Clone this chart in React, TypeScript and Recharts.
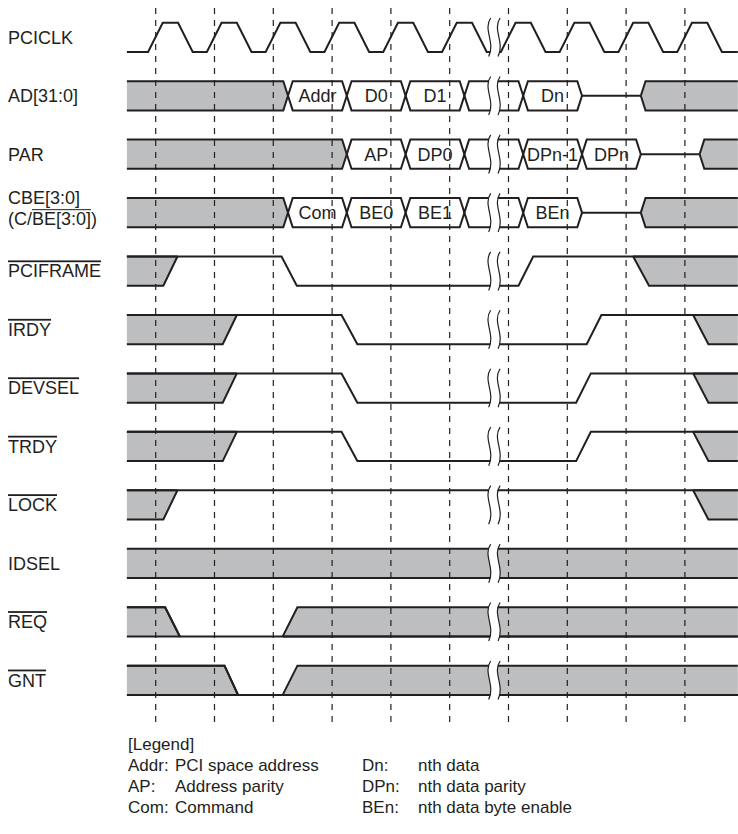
import React from 'react'
import { ComposedChart, Line, Area, Scatter, XAxis, YAxis, ReferenceLine, ReferenceArea } from 'recharts'

// time axis: one unit = one PCICLK period, 0 = first dashed line
const T0 = -0.49
const T1 = 9.9

const signals = ['PCICLK', 'AD[31:0]', 'PAR', 'CBE[3:0]', 'PCIFRAME', 'IRDY', 'DEVSEL', 'TRDY', 'LOCK', 'IDSEL', 'REQ', 'GNT']
const overlined = ['PCIFRAME', 'IRDY', 'DEVSEL', 'TRDY', 'LOCK', 'REQ', 'GNT']

const clockEdges = [0, 1, 2, 3, 4, 5, 6, 7, 8, 9]
const breakSpan = [5.68, 5.84]

// bus signals: data change points, labels and high-Z window
const adEdges = [2.25, 3.25, 4.25, 5.25, 6.25, 7.25]
const adLabels = ['Addr', 'D0', 'D1', '', 'Dn']
const adFloat = [7.25, 8.25]
const parEdges = [3.25, 4.25, 5.25, 6.25, 7.25, 8.25]
const parLabels = ['AP', 'DP0', '', 'DPn-1', 'DPn']
const parFloat = [8.25, 9.25]
const cbeEdges = [2.25, 3.25, 4.25, 5.25, 6.25, 7.25]
const cbeLabels = ['Com', 'BE0', 'BE1', '', 'BEn']
const cbeFloat = [7.25, 8.25]

// control signals: [t, level] (1 = high, 0 = low)
const frameLine = [[T0, 1], [2.14, 1], [2.4, 0], [6.17, 0], [6.42, 1], [T1, 1]]
const frameGray = [[[T0, 0, 1], [0.13, 0, 1], [0.37, 1, 1]], [[8.12, 1, 1], [8.39, 0, 1], [T1, 0, 1]]]
const irdyLine = [[T0, 1], [3.16, 1], [3.43, 0], [7.33, 0], [7.58, 1], [T1, 1]]
const irdyGray = [[[T0, 0, 1], [1.14, 0, 1], [1.38, 1, 1]], [[9.14, 1, 1], [9.4, 0, 1], [T1, 0, 1]]]
const devselLine = [[T0, 1], [3.16, 1], [3.43, 0], [7.15, 0], [7.4, 1], [T1, 1]]
const devselGray = [[[T0, 0, 1], [1.14, 0, 1], [1.38, 1, 1]], [[9.14, 1, 1], [9.4, 0, 1], [T1, 0, 1]]]
const trdyLine = [[T0, 1], [3.16, 1], [3.43, 0], [7.15, 0], [7.4, 1], [T1, 1]]
const trdyGray = [[[T0, 0, 1], [1.14, 0, 1], [1.38, 1, 1]], [[9.14, 1, 1], [9.4, 0, 1], [T1, 0, 1]]]
const lockLine = [[T0, 1], [T1, 1]]
const lockGray = [[[T0, 0, 1], [0.13, 0, 1], [0.37, 1, 1]], [[9.14, 1, 1], [9.4, 0, 1], [T1, 0, 1]]]
const idselGray = [[[T0, 0, 1], [T1, 0, 1]]]
const reqLine = [[T0, 1], [0.16, 1], [0.41, 0], [T1, 0]]
const reqGray = [[[T0, 0, 1], [0.16, 0, 1], [0.41, 0, 0]], [[2.16, 0, 0], [2.41, 0, 1], [T1, 0, 1]]]
const gntLine = [[T0, 1], [1.17, 1], [1.4, 0], [T1, 0]]
const gntGray = [[[T0, 0, 1], [1.17, 0, 1], [1.4, 0, 0]], [[2.16, 0, 0], [2.41, 0, 1], [T1, 0, 1]]]

const legendKeys = ['Addr:', 'AP:', 'Com:']
const legendDescs = ['PCI space address', 'Address parity', 'Command']
const legendKeys2 = ['Dn:', 'DPn:', 'BEn:']
const legendDescs2 = ['nth data', 'nth data parity', 'nth data byte enable']

const INK = '#231f20'
const GRAY = '#bcbec0'
const FONT = '"Liberation Sans", Arial, Helvetica, sans-serif'
const H = 0.08 // half width of a bus crossing

const lvl = (row: number, level: number) => row + (1 - level) * 0.5
const mid = (row: number) => row + 0.25

const toLine = (row: number, pts: number[][]) => pts.map(([t, l]) => ({ t, v: lvl(row, l) }))
const toGray = (row: number, pts: number[][]) =>
  pts.map(([t, lo, hi]) => ({ t, r: [lvl(row, lo), lvl(row, hi)] }))

const clockData = (() => {
  const pts = [{ t: T0, v: lvl(0, 0) }]
  clockEdges.forEach((k) => {
    pts.push({ t: k - 0.13, v: lvl(0, 0) })
    pts.push({ t: k + 0.12, v: lvl(0, 1) })
    pts.push({ t: k + 0.38, v: lvl(0, 1) })
    pts.push({ t: k + 0.63, v: lvl(0, 0) })
  })
  pts.push({ t: T1, v: lvl(0, 0) })
  return pts
})()

function busParts(row: number, edges: number[], labels: string[], float: number[]) {
  const full = [lvl(row, 0), lvl(row, 1)]
  const m = [mid(row), mid(row)]
  const grayIn = [{ t: T0, r: full }, { t: edges[0] - H, r: full }, { t: edges[0], r: m }]
  const grayOut = [{ t: float[1], r: m }, { t: float[1] + H, r: full }, { t: T1, r: full }]
  const hex: any[] = []
  edges.forEach((e, k) => {
    if (k > 0) hex.push({ t: e - H, r: full })
    hex.push({ t: e, r: m })
    if (k < edges.length - 1) hex.push({ t: e + H, r: full })
  })
  const floatLine = [{ t: float[0], v: mid(row) }, { t: float[1], v: mid(row) }]
  const text = labels
    .map((label, k) => ({ t: (edges[k] + edges[k + 1]) / 2, v: mid(row), label }))
    .filter((d) => d.label)
  return { grayIn, grayOut, hex, floatLine, text }
}

const buses = [
  busParts(1, adEdges, adLabels, adFloat),
  busParts(2, parEdges, parLabels, parFloat),
  busParts(3, cbeEdges, cbeLabels, cbeFloat),
]

const controls = [
  { row: 4, line: frameLine, gray: frameGray },
  { row: 5, line: irdyLine, gray: irdyGray },
  { row: 6, line: devselLine, gray: devselGray },
  { row: 7, line: trdyLine, gray: trdyGray },
  { row: 8, line: lockLine, gray: lockGray },
  { row: 9, line: null, gray: idselGray },
  { row: 10, line: reqLine, gray: reqGray },
  { row: 11, line: gntLine, gray: gntGray },
]

const busText = buses.flatMap((b) => b.text)
const rowTicks = signals.map((_, i) => mid(i))

let measureCtx: CanvasRenderingContext2D | null = null
function textWidth(s: string, size: number) {
  if (!measureCtx) measureCtx = document.createElement('canvas').getContext('2d')
  if (!measureCtx) return s.length * size * 0.6
  measureCtx.font = `${size}px "Liberation Sans", Arial, sans-serif`
  return measureCtx.measureText(s).width
}

function SignalTick(props: any) {
  const { y, payload } = props
  const name = signals[Math.floor(payload.value)]
  const common = { x: 8, fontSize: 18, fontFamily: FONT, fill: INK }
  if (name === 'CBE[3:0]') {
    const x0 = 8 + textWidth('(C/', 18)
    const x1 = x0 + textWidth('BE[3:0]', 18)
    const base2 = y + 12
    return (
      <g>
        <text {...common} y={y - 9}>CBE[3:0]</text>
        <text {...common} y={base2}>(C/BE[3:0])</text>
        <line x1={x0} x2={x1} y1={base2 - 15} y2={base2 - 15} stroke={INK} strokeWidth={1} />
      </g>
    )
  }
  return (
    <text {...common} y={y} dy="0.35em" style={overlined.includes(name) ? { textDecoration: 'overline' } : undefined}>
      {name}
    </text>
  )
}

function BreakShape(props: any) {
  const { x, y, width, height } = props
  const xl = x
  const xr = x + width
  const curve = (cx: number) =>
    `M${cx + 1},${y} C${cx - 7},${y + height * 0.3} ${cx + 6},${y + height * 0.62} ${cx - 1},${y + height}`
  const fillPath =
    `M${xl + 1},${y} C${xl - 7},${y + height * 0.3} ${xl + 6},${y + height * 0.62} ${xl - 1},${y + height} ` +
    `L${xr - 1},${y + height} C${xr + 6},${y + height * 0.62} ${xr - 7},${y + height * 0.3} ${xr + 1},${y} Z`
  return (
    <g>
      <path d={fillPath} fill="#fff" stroke="none" />
      <path d={curve(xl)} fill="none" stroke={INK} strokeWidth={1.2} />
      <path d={curve(xr)} fill="none" stroke={INK} strokeWidth={1.2} />
    </g>
  )
}

const X_MIN = (120 - 155.7) / 58.8
const X_MAX = (738 - 155.7) / 58.8
const Y_MIN = -22.7 / 58.45
const Y_MAX = (730 - 22.7) / 58.45

export default function App() {
  const areaProps = {
    type: 'linear' as const,
    dataKey: 'r',
    stroke: INK,
    strokeWidth: 2,
    isAnimationActive: false,
    dot: false,
    activeDot: false,
  }
  const lineProps = {
    type: 'linear' as const,
    dataKey: 'v',
    stroke: INK,
    strokeWidth: 2,
    isAnimationActive: false,
    dot: false,
    activeDot: false,
  }
  return (
    <div style={{ position: 'absolute', left: 0, top: 0, width: 738, height: 834, background: '#fff' }}>
      <ComposedChart width={738} height={730} margin={{ top: 0, right: 0, bottom: 0, left: 0 }}>
        <XAxis type="number" dataKey="t" domain={[X_MIN, X_MAX]} hide allowDataOverflow />
        <YAxis
          type="number"
          domain={[Y_MIN, Y_MAX]}
          reversed
          width={120}
          ticks={rowTicks}
          interval={0}
          tick={<SignalTick />}
          axisLine={false}
          tickLine={false}
          allowDataOverflow
        />

        {controls.flatMap((c) =>
          c.gray.map((g, j) => (
            <Area key={`g-${c.row}-${j}`} {...areaProps} data={toGray(c.row, g)} fill={GRAY} fillOpacity={1} />
          ))
        )}
        {buses.map((b, i) => (
          <Area key={`gi-${i}`} {...areaProps} data={b.grayIn} fill={GRAY} fillOpacity={1} />
        ))}
        {buses.map((b, i) => (
          <Area key={`go-${i}`} {...areaProps} data={b.grayOut} fill={GRAY} fillOpacity={1} />
        ))}
        {buses.map((b, i) => (
          <Area key={`hx-${i}`} {...areaProps} data={b.hex} fill="none" />
        ))}

        <Line {...lineProps} data={clockData} />
        {buses.map((b, i) => (
          <Line key={`fl-${i}`} {...lineProps} data={b.floatLine} />
        ))}
        {controls
          .filter((c) => c.line)
          .map((c) => (
            <Line key={`l-${c.row}`} {...lineProps} data={toLine(c.row, c.line as number[][])} />
          ))}

        {clockEdges.map((k) => (
          <ReferenceLine
            key={`d-${k}`}
            segment={[{ x: k, y: -0.25 }, { x: k, y: 11.98 }]}
            stroke={INK}
            strokeWidth={1.2}
            strokeDasharray="6 6"
          />
        ))}

        <Scatter
          data={busText}
          dataKey="v"
          isAnimationActive={false}
          shape={(p: any) => (
            <text x={p.cx} y={p.cy} dy="0.35em" textAnchor="middle" fontSize={18} fontFamily={FONT} fill={INK}>
              {p.payload.label}
            </text>
          )}
        />

        {signals.map((_, i) => (
          <ReferenceArea
            key={`b-${i}`}
            x1={breakSpan[0]}
            x2={breakSpan[1]}
            y1={i - 0.08}
            y2={i + 0.58}
            shape={<BreakShape />}
            ifOverflow="visible"
            {...({ zIndex: 1500 } as any)}
          />
        ))}
      </ComposedChart>

      <div
        style={{
          position: 'absolute',
          left: 128,
          top: 734,
          fontFamily: FONT,
          fontSize: 17,
          lineHeight: '21px',
          color: INK,
        }}
      >
        <div>[Legend]</div>
        {legendKeys.map((k, i) => (
          <div key={k} style={{ display: 'flex' }}>
            <span style={{ width: 47 }}>{k}</span>
            <span style={{ width: 187 }}>{legendDescs[i]}</span>
            <span style={{ width: 56 }}>{legendKeys2[i]}</span>
            <span>{legendDescs2[i]}</span>
          </div>
        ))}
      </div>
    </div>
  )
}
